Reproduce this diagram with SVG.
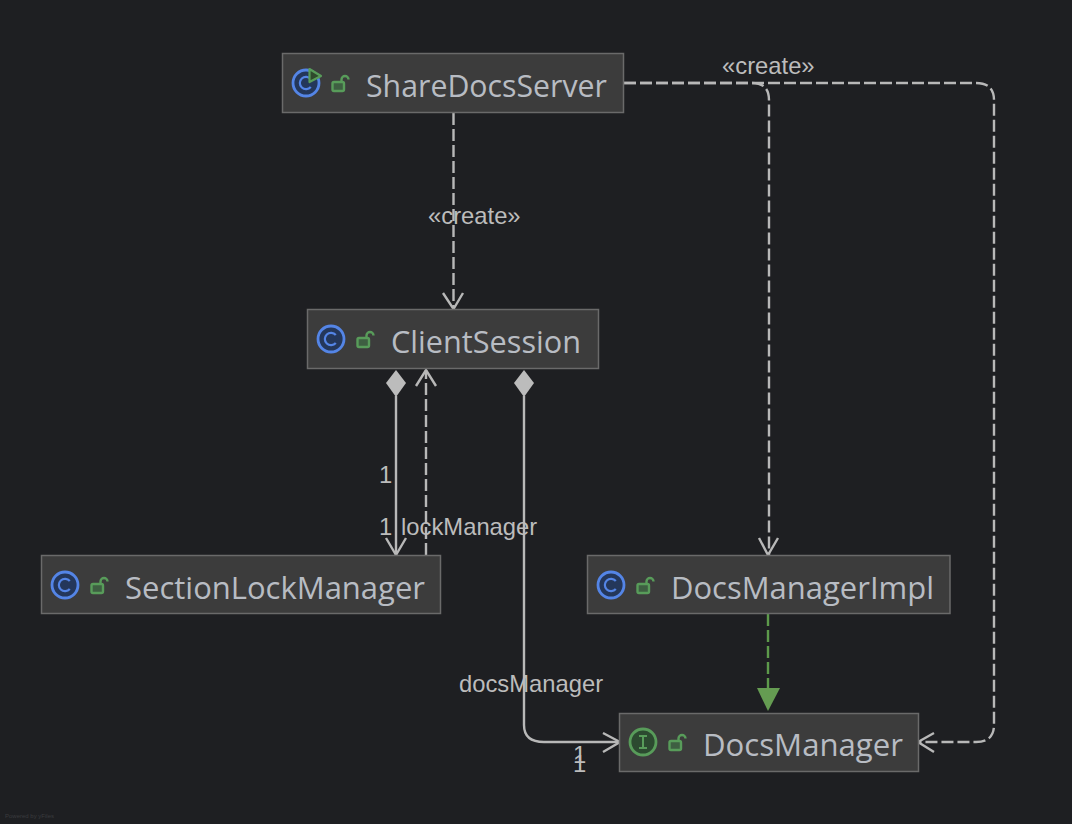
<svg xmlns="http://www.w3.org/2000/svg" width="1072" height="824" viewBox="0 0 1072 824">
<style>
.box{fill:#3c3c3c;stroke:#6a6a6a;stroke-width:1.5}
.name{font-family:"Open Sans","Noto Sans",sans-serif;font-size:31px;fill:#b8bcc3}
.lbl{font-family:"Liberation Sans",Arial,sans-serif;font-size:23.800px;fill:#bcbcbc}
.ln{fill:none;stroke:#b8b8b8;stroke-width:2.400}
.d{stroke-dasharray:12 4}
.ci{fill:#24375a;stroke:#5485e6;stroke-width:2.800}
.ct{fill:none;stroke:#5485e6;stroke-width:2.200}
.ic{fill:#2c4a30;stroke:#589c5a;stroke-width:2.800}
.lk{fill:none;stroke:#589c5a;stroke-width:2.400}
.lkb{fill:#3e5f42;stroke:#589c5a;stroke-width:2.400}
</style>
<defs>
<g id="lock"><rect x="-7.500" y="1" width="11.500" height="9" rx="1.500" class="lkb"/><path d="M1.500 1v-2.500a3.500 3.500 0 0 1 7 0" class="lk"/></g>
<g id="cic"><circle r="13" class="ci"/><path d="M4.800 -4A6.200 6.200 0 1 0 4.800 4" class="ct"/></g>
</defs>
<rect width="1072" height="824" fill="#1e1f22"/>
<g id="connectors">
<path class="ln d" d="M453.500 113V309"/>
<path class="ln" d="M443 293L453.500 309L463 293"/>
<path class="ln" d="M396 396V555"/>
<path class="ln" d="M386 538L396 555L406 538"/>
<path class="ln d" d="M426 555V370"/>
<path class="ln" d="M416 386L426 370L436 386"/>
<path class="ln" d="M524 396V725Q524 742 544 742H620"/>
<path class="ln" d="M603 733L620 742L603 752"/>
<path class="ln d" d="M624 83H752Q769 83 769 100V555"/>
<path class="ln" d="M759 538L768 555L778 538"/>
<path class="ln d" d="M624 83H976Q994 83 994 100V725Q994 742 976 742H919"/>
<path class="ln" d="M934 733L918 742L934 752"/>
<path d="M768 614V688" fill="none" stroke="#5d9a4b" stroke-width="2.400" stroke-dasharray="12 4"/>
<polygon points="757,688 780,688 768,711" fill="#659c52"/>
<polygon points="396,370 406,383 396,397 386,383" fill="#bcbcbc"/>
<polygon points="524,370 534,383 524,397 514,383" fill="#bcbcbc"/>
<text class="lbl" x="722" y="74">«create»</text>
<text class="lbl" x="428" y="224">«create»</text>
<text class="lbl" x="379" y="483">1</text>
<text class="lbl" x="379" y="535">1</text>
<text class="lbl" x="401" y="535">lockManager</text>
<text class="lbl" x="459" y="692">docsManager</text>
<text class="lbl" x="573" y="763">1</text>
<text class="lbl" x="573" y="772">1</text>
</g>
<g id="ShareDocsServer">
<rect class="box" x="282.500" y="53.500" width="341" height="59"/>
<use href="#cic" x="306" y="83"/>
<polygon points="309.500,69 321,76 309.500,82" fill="#2f4a2c" stroke="#589c5a" stroke-width="2.200" stroke-linejoin="round"/>
<use href="#lock" x="340" y="81"/>
<text class="name" x="366" y="97" textLength="241" lengthAdjust="spacingAndGlyphs">ShareDocsServer</text>
</g>
<g id="ClientSession">
<rect class="box" x="307.500" y="309.500" width="291" height="59"/>
<use href="#cic" x="331" y="339"/>
<use href="#lock" x="365" y="337"/>
<text class="name" x="391" y="353" textLength="190" lengthAdjust="spacingAndGlyphs">ClientSession</text>
</g>
<g id="SectionLockManager">
<rect class="box" x="41.500" y="555.500" width="399" height="58"/>
<use href="#cic" x="65" y="585"/>
<use href="#lock" x="99" y="583"/>
<text class="name" x="125" y="599" textLength="300" lengthAdjust="spacingAndGlyphs">SectionLockManager</text>
</g>
<g id="DocsManagerImpl">
<rect class="box" x="587.500" y="555.500" width="362.500" height="58"/>
<use href="#cic" x="611" y="585"/>
<use href="#lock" x="645" y="583"/>
<text class="name" x="671" y="599" textLength="263" lengthAdjust="spacingAndGlyphs">DocsManagerImpl</text>
</g>
<g id="DocsManager">
<rect class="box" x="619.500" y="713.500" width="299" height="58"/>
<circle cx="643" cy="742" r="13" class="ic"/>
<path d="M639 736h8M643 736v12M639 748h8" fill="none" stroke="#589c5a" stroke-width="2"/>
<use href="#lock" x="677" y="740"/>
<text class="name" x="703" y="756" textLength="200" lengthAdjust="spacingAndGlyphs">DocsManager</text>
</g>
<text x="5" y="818" font-family="Liberation Sans,sans-serif" font-size="6" fill="#3a3b3e">Powered by yFiles</text>
</svg>
